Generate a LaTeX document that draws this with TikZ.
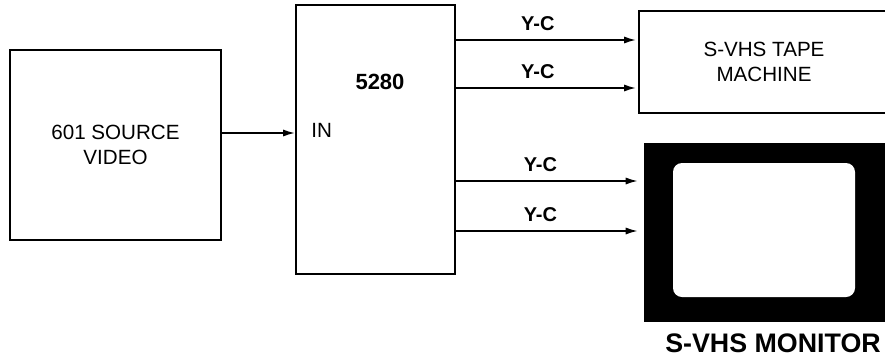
\documentclass[tikz,border=0pt]{standalone}
\usepackage{fontspec}
\setmainfont{Liberation Sans}
\usepackage{tikz}
\usetikzlibrary{
  arrows.meta,
  positioning,
  calc
}
\tikzset{
  %%── boxes ──────────────────────────────────────────────
  blk/.style = {
    rectangle, draw = black, line width = 1pt, fill = white,
    align = center, inner sep = 0pt,
    font = \fontsize{10.3}{12.2}\selectfont
  },
  scrn/.style = {
    rectangle, draw = none, fill = black, inner sep = 0pt
  },
  glass/.style = {
    rectangle, rounded corners = 4.5pt, fill = white, inner sep = 0pt,
    minimum width = 91pt, minimum height = 67pt
  },
  %%── labels ─────────────────────────────────────────────
  plain/.style = {font = \fontsize{10.3}{12.2}\selectfont, inner sep = 0pt},
  yc/.style    = {font = \fontsize{10}{12}\selectfont\bfseries,
                  inner sep = 0pt, above = 4.4pt, pos = 0.45},
  %%── arrows ─────────────────────────────────────────────
  sig/.style = {-{Latex[length=6pt, width=3.6pt]}, line width = 0.8pt},
}

\begin{document}
\begin{tikzpicture}[x=0.5pt, y=-0.5pt]
  \clip (0,0) rectangle (885,360);

  % source, encoder, tape machine
  \node[blk, minimum width=105.5pt, minimum height=95pt] (src)
    at (115.5,145) {601 SOURCE\\VIDEO};
  \node[blk, minimum width=79.5pt, minimum height=134.5pt] (ic)
    at (375.5,139.5) {};
  \node[font=\fontsize{11}{13}\selectfont\bfseries] (icname)
    at ([xshift=2.25pt, yshift=28.75pt]ic.center) {5280};
  \node[blk, minimum width=125pt, minimum height=51pt] (tape)
    at (764,62) {S-VHS TAPE\\MACHINE};

  % monitor
  \node[scrn, minimum width=121pt, minimum height=89.5pt] (mon)
    at (765,232.5) {};
  \node[glass] (monglass) at ([xshift=-0.5pt, yshift=1.25pt]mon.center) {};
  \node[anchor=base, font=\fontsize{13.4}{16}\selectfont\bfseries] (monname)
    at ([xshift=4pt, yshift=-15pt]mon.south) {S-VHS MONITOR};

  % input
  \coordinate (inpt) at ([yshift=3.25pt]ic.west);
  \draw[sig] (inpt -| src.east) -- (inpt);
  \node[plain, anchor=base west] (inname)
    at ([xshift=8pt, yshift=-2pt]inpt) {IN};

  % outputs
  \coordinate (out1) at ([yshift=-18pt]ic.north east);
  \coordinate (out2) at ([yshift=-42pt]ic.north east);
  \coordinate (out3) at ([yshift=-88.5pt]ic.north east);
  \coordinate (out4) at ([yshift=-113.5pt]ic.north east);
  \draw[sig, shorten >=1pt] (out1) -- (out1 -| tape.west) node[yc] {Y-C};
  \draw[sig, shorten >=1pt] (out2) -- (out2 -| tape.west) node[yc] {Y-C};
  \draw[sig, shorten >=3pt] (out3) -- (out3 -| mon.west) node[yc] {Y-C};
  \draw[sig, shorten >=3pt] (out4) -- (out4 -| mon.west) node[yc] {Y-C};
\end{tikzpicture}
\end{document}
